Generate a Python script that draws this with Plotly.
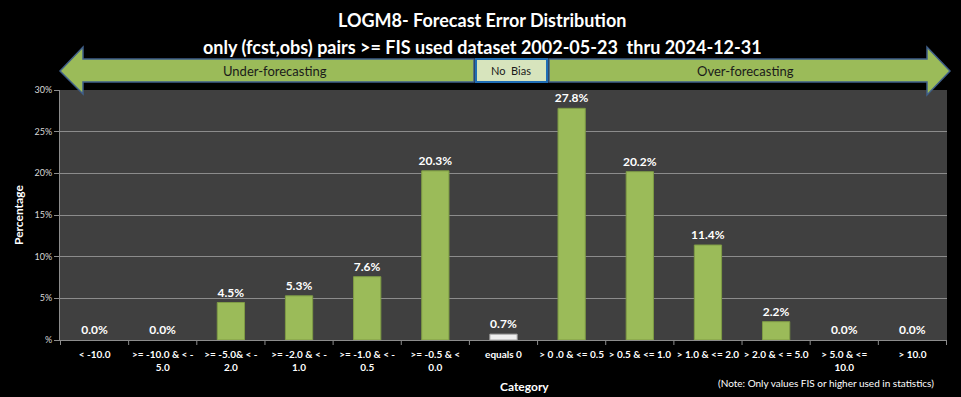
import plotly.graph_objects as go

categories = [
    "< -10.0", ">= -10.0 & < -<br>5.0", ">= -5.0& < -<br>2.0", ">= -2.0 & < -<br>1.0",
    ">= -1.0 & < -<br>0.5", ">= -0.5 & <<br>0.0", "equals 0", "> 0 .0 & <= 0.5",
    "> 0.5 & <= 1.0", "> 1.0 & <= 2.0", "> 2.0 & < = 5.0", "> 5.0 & <=<br>10.0", "> 10.0",
]
values = [0.0, 0.0, 4.5, 5.3, 7.6, 20.3, 0.7, 27.8, 20.2, 11.4, 2.2, 0.0, 0.0]
y_tickvals = [0, 5, 10, 15, 20, 25, 30]
y_ticktext = ["%", "5%", "10%", "15%", "20%", "25%", "30%"]

title_1 = "LOGM8- Forecast Error Distribution"
title_2 = "only (fcst,obs) pairs >= FIS used dataset 2002-05-23  thru 2024-12-31"

FONT = "Lato, 'Open Sans', sans-serif"
W, H = 961, 397
L, R, T, B = 60, 14, 90, 57
PW, PH = W - L - R, H - T - B


def px(x):
    return (x - L) / PW


def py(y):
    return (H - B - y) / PH


colors = ["#EEEEEE" if c == "equals 0" else "#9BBB59" for c in categories]
lines = ["#A6A6A6" if c == "equals 0" else "#7E9B45" for c in categories]
line_w = [1 if v > 0 else 0 for v in values]

fig = go.Figure()
fig.add_trace(go.Bar(
    x=categories, y=values,
    marker=dict(color=colors, line=dict(color=lines, width=line_w)),
    text=[f"{v:.1f}%" for v in values],
    textposition="outside",
    constraintext="none",
    textfont=dict(color="white", size=12, family=FONT, weight="bold"),
    cliponaxis=False,
    hoverinfo="skip",
))

shapes = []
# left arrow (under-forecasting)
lp = [(60, 71), (83, 47), (83, 59), (474, 59), (474, 82), (83, 82), (83, 94)]
path = "M " + " L ".join(f"{px(x):.5f},{py(y):.5f}" for x, y in lp) + " Z"
shapes.append(dict(type="path", xref="paper", yref="paper", path=path,
                   fillcolor="#9BBB59", line=dict(color="#3F5F8A", width=1.5), layer="above"))
# right arrow (over-forecasting)
rp = [(950, 71), (927, 47), (927, 59), (549, 59), (549, 82), (927, 82), (927, 95)]
path = "M " + " L ".join(f"{px(x):.5f},{py(y):.5f}" for x, y in rp) + " Z"
shapes.append(dict(type="path", xref="paper", yref="paper", path=path,
                   fillcolor="#9BBB59", line=dict(color="#3F5F8A", width=1.5), layer="above"))
# no bias box
shapes.append(dict(type="rect", xref="paper", yref="paper",
                   x0=px(476), x1=px(547), y0=py(82), y1=py(59),
                   fillcolor="#D7E4BD", line=dict(color="#1F6DB5", width=2), layer="above"))

annotations = [
    dict(text=f"<b>{title_1}</b>", x=px(482), y=py(20), xref="paper", yref="paper",
         showarrow=False, font=dict(size=18, color="white", family=FONT), xanchor="center", yanchor="middle"),
    dict(text=f"<b>{title_2}</b>", x=px(482), y=py(47), xref="paper", yref="paper",
         showarrow=False, font=dict(size=18, color="white", family=FONT), xanchor="center", yanchor="middle"),
    dict(text="Under-forecasting", x=px(275), y=py(71), xref="paper", yref="paper",
         showarrow=False, font=dict(size=13, color="#1A1A1A", family=FONT), xanchor="center", yanchor="middle"),
    dict(text="Over-forecasting", x=px(745), y=py(71), xref="paper", yref="paper",
         showarrow=False, font=dict(size=13, color="#1A1A1A", family=FONT), xanchor="center", yanchor="middle"),
    dict(text="No  Bias", x=px(511), y=py(71), xref="paper", yref="paper",
         showarrow=False, font=dict(size=11, color="#1A1A1A", family=FONT), xanchor="center", yanchor="middle"),
    dict(text="<b>Category</b>", x=px(524), y=py(386), xref="paper", yref="paper",
         showarrow=False, font=dict(size=12, color="white", family=FONT), xanchor="center", yanchor="middle"),
    dict(text="<b>Percentage</b>", x=px(18), y=py(215), xref="paper", yref="paper", textangle=-90,
         showarrow=False, font=dict(size=12, color="white", family=FONT), xanchor="center", yanchor="middle"),
    dict(text="(Note: Only values FIS or higher used in statistics)", x=px(936), y=py(383),
         xref="paper", yref="paper", showarrow=False,
         font=dict(size=10, color="white", family=FONT), xanchor="right", yanchor="middle"),
]

fig.update_layout(
    width=W, height=H,
    margin=dict(l=L, r=R, t=T, b=B),
    paper_bgcolor="black", plot_bgcolor="#404040",
    bargap=0.6, showlegend=False,
    shapes=shapes, annotations=annotations,
    xaxis=dict(
        type="category", showgrid=False, showline=True, linecolor="#8C8C8C", linewidth=1,
        ticks="", ticklabelstandoff=5, tickangle=0, automargin=False,
        tickfont=dict(size=10, color="white", family=FONT, weight="bold"),
        fixedrange=True,
    ),
    yaxis=dict(
        range=[0, 30], tickvals=y_tickvals, ticktext=y_ticktext, automargin=False,
        showgrid=True, gridcolor="#8C8C8C", gridwidth=1, zeroline=False,
        showline=True, linecolor="#8C8C8C", ticks="outside", tickcolor="#8C8C8C", ticklen=5,
        tickfont=dict(size=9, color="#D9D9D9", family=FONT), fixedrange=True,
    ),
    font=dict(family=FONT, color="white"),
)

# category boundary tick marks on x axis
for i in range(len(categories) + 1):
    fig.add_shape(type="line", xref="x", yref="paper",
                  x0=i - 0.5, x1=i - 0.5, y0=0, y1=py(H - B + 5),
                  line=dict(color="#8C8C8C", width=1))

fig.write_html(
    "out.html",
    config={"displayModeBar": False},
    post_script="document.body.style.margin='0';document.body.style.background='black';",
)
